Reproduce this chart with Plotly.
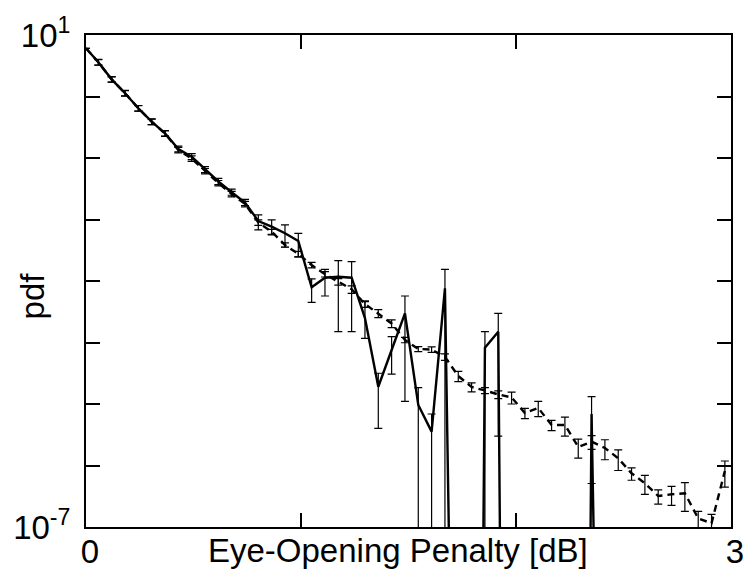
import plotly.graph_objects as go

# ---------------- data ----------------
# bin positions of the eye-opening penalty [dB]
x_pos = [0.0, 0.0575, 0.1195, 0.1815, 0.2435, 0.3055, 0.3675, 0.4295, 0.4915,
         0.5535, 0.6155, 0.6775, 0.7395, 0.8015, 0.8635, 0.9255, 0.9875, 1.0495,
         1.1115, 1.1735, 1.2355, 1.2975, 1.3595, 1.4215, 1.4835, 1.5455, 1.6075,
         1.6695, 1.7315, 1.7935, 1.8555, 1.9175, 1.9795, 2.0415, 2.1035, 2.1655,
         2.2275, 2.2895, 2.3515, 2.4135, 2.4755, 2.5375, 2.5995, 2.6615, 2.7235,
         2.7855, 2.8475, 2.9095, 2.9715]

# solid curve (0 = empty bin)
solid_pdf = [6.08,
             3.60, 1.90, 1.13, 0.643, 0.389, 0.252, 0.140, 0.105, 0.0650, 0.0415, 0.0278, 0.0189,
             9.46e-3, 7.64e-3, 5.97e-3, 4.47e-3,
             7.90e-4, 1.13e-3, 1.17e-3, 1.13e-3,
             2.50e-4, 1.91e-5, 7.55e-5, 2.98e-4,
             9.64e-6, 3.55e-6, 7.60e-4, 0, 0,
             8.23e-5, 1.50e-4,
             0, 0, 0, 0, 0, 0,
             6.88e-6,
             0, 0, 0, 0, 0, 0, 0, 0, 0, 0]
solid_err_hi = [0,
                0.40, 0.21, 0.125, 0.071, 0.043, 0.028, 0.016, 0.013, 0.0078, 0.005, 0.0034, 0.0023,
                2.4e-3, 2.2e-3, 2.2e-3, 1.5e-3,
                2.9e-4, 4.2e-4, 9.7e-4, 9.3e-4,
                2.11e-4, 1.25e-5, 4.9e-5, 2.72e-4,
                8.8e-6, 3.33e-6, 7.9e-4, 0, 0,
                6.8e-5, 1.48e-4,
                0, 0, 0, 0, 0, 0,
                6.3e-6,
                0, 0, 0, 0, 0, 0, 0, 0, 0, 0]
solid_err_lo = [0,
                0.36, 0.19, 0.11, 0.064, 0.039, 0.025, 0.014, 0.011, 0.007, 0.0045, 0.003, 0.002,
                2.7e-3, 2.0e-3, 2.4e-3, 2.0e-3,
                3.4e-4, 5.6e-4, 1.02e-3, 9.8e-4,
                1.33e-4, 1.51e-5, 4.5e-5, 2.87e-4,
                9.64e-6, 3.55e-6, 7.60e-4, 0, 0,
                8.23e-5, 1.47e-4,
                0, 0, 0, 0, 0, 0,
                6.37e-6,
                0, 0, 0, 0, 0, 0, 0, 0, 0, 0]

# dashed curve
dash_pdf = [6.08,
            3.60, 1.90, 1.13, 0.643, 0.389, 0.250, 0.135, 0.0981, 0.0615, 0.0392, 0.0260, 0.0179,
            8.94e-3, 6.33e-3, 3.85e-3, 2.75e-3,
            1.82e-3, 1.29e-3, 9.75e-4, 7.33e-4,
            4.23e-4, 2.98e-4, 2.04e-4, 1.10e-4,
            7.84e-5, 7.69e-5, 5.81e-5, 2.85e-5,
            1.89e-5, 1.66e-5, 1.43e-5, 1.28e-5,
            7.14e-6, 8.61e-6, 4.56e-6, 4.56e-6,
            2.00e-6, 2.44e-6, 1.93e-6, 1.31e-6,
            7.46e-7, 5.14e-7, 3.19e-7, 3.40e-7,
            3.53e-7, 1.38e-7, 1.15e-7, 8.14e-7]
dash_err = [0,
            0.36, 0.19, 0.113, 0.064, 0.039, 0.025, 0.0135, 0.0098, 0.0062, 0.0039, 0.0026, 0.0018,
            8.9e-4, 5.7e-4, 3.1e-4, 2.75e-4,
            1.82e-4, 1.29e-4, 1.17e-4, 1.03e-4,
            5.1e-5, 4.5e-5, 2.9e-5, 1.1e-5,
            7.1e-6, 7.7e-6, 7.0e-6, 5.4e-6,
            3.2e-6, 1.8e-6, 2.1e-6, 2.8e-6,
            1.36e-6, 2.4e-6, 8.7e-7, 1.55e-6,
            6.8e-7, 6.1e-7, 6.9e-7, 4.8e-7,
            1.7e-7, 1.75e-7, 8.3e-8, 1.16e-7,
            1.73e-7, 4.1e-8, 4.6e-8, 3.7e-7]

x_tick_vals = [0, 1, 2, 3]
x_tick_text = ["0", "", "", "3"]
y_tick_vals = [1e-7, 1e-6, 1e-5, 1e-4, 1e-3, 1e-2, 1e-1, 1e0, 1e1]
y_tick_text = ["10<sup>-7</sup>", "", "", "", "", "", "", "", "10<sup>1</sup>"]

x_title = "Eye-Opening Penalty [dB]"
y_title = "pdf"

# empty bins lie far below the log axis (as in the original, lines drop off-chart)
EMPTY_FLOOR = 1e-30
solid_plot = [v if v > 0 else EMPTY_FLOOR for v in solid_pdf]

FONT = "Liberation Sans, Arial, Helvetica, sans-serif"
FS = 33

fig = go.Figure()

fig.add_trace(go.Scatter(
    x=x_pos, y=dash_pdf, mode="lines",
    line=dict(color="black", width=2.4, dash="7px,5px"),
    error_y=dict(type="data", array=dash_err, symmetric=True,
                 color="black", thickness=1.2, width=4),
    hoverinfo="skip",
))

fig.add_trace(go.Scatter(
    x=x_pos, y=solid_plot, mode="lines",
    line=dict(color="black", width=2.4),
    error_y=dict(type="data", array=solid_err_hi, arrayminus=solid_err_lo,
                 symmetric=False, color="black", thickness=1.2, width=4),
    hoverinfo="skip",
))

axis_common = dict(
    showline=True, linewidth=2, linecolor="black", mirror="ticks",
    ticks="inside", ticklen=14, tickwidth=2, tickcolor="black",
    showgrid=False, zeroline=False, automargin=False,
    ticklabeloverflow="allow",
    tickfont=dict(family=FONT, size=FS, color="black"),
)

fig.update_xaxes(range=[0, 3], tickmode="array", tickvals=x_tick_vals,
                 ticktext=x_tick_text, ticklabelshift=4, ticklabelstandoff=-6,
                 **axis_common)
fig.update_yaxes(type="log", range=[-7, 1], tickmode="array",
                 tickvals=y_tick_vals, ticktext=y_tick_text,
                 ticklabelstandoff=7, **axis_common)

fig.add_annotation(text=x_title, xref="paper", yref="paper",
                   x=0.483, y=-0.047, xanchor="center", yanchor="middle",
                   showarrow=False, font=dict(family=FONT, size=FS, color="black"))
fig.add_annotation(text=y_title, xref="paper", yref="paper",
                   x=-0.083, y=0.4695, xanchor="center", yanchor="middle",
                   textangle=-90, showarrow=False,
                   font=dict(family=FONT, size=FS, color="black"))

fig.update_layout(
    width=744, height=569,
    margin=dict(l=86, r=13, t=35, b=42),
    plot_bgcolor="white", paper_bgcolor="white",
    showlegend=False,
    font=dict(family=FONT, size=FS, color="black"),
)

fig.write_html("out.html")
